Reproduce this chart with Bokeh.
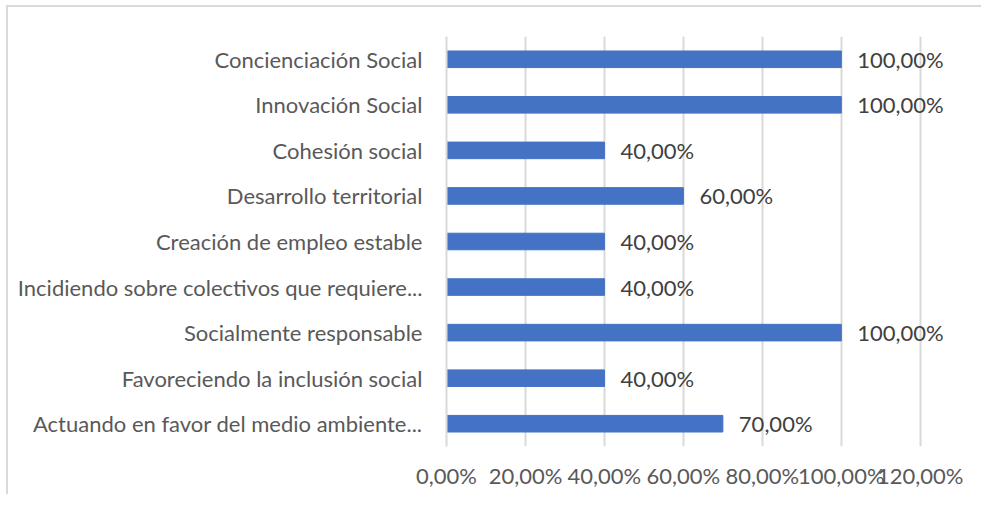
from bokeh.plotting import figure
from bokeh.models import FactorRange, Range1d, FixedTicker, ColumnDataSource, LabelSet
from bokeh.core.properties import value
from bokeh.embed import file_html
from bokeh.resources import INLINE

categories = [
    "Concienciación Social",
    "Innovación Social",
    "Cohesión social",
    "Desarrollo territorial",
    "Creación de empleo estable",
    "Incidiendo sobre colectivos que requiere...",
    "Socialmente responsable",
    "Favoreciendo la inclusión social",
    "Actuando en favor del medio ambiente...",
]
values = [1.00, 1.00, 0.40, 0.60, 0.40, 0.40, 1.00, 0.40, 0.70]
value_labels = ["100,00%", "100,00%", "40,00%", "60,00%", "40,00%", "40,00%", "100,00%", "40,00%", "70,00%"]
tick_values = [0.0, 0.2, 0.4, 0.6, 0.8, 1.0, 1.2]
tick_labels = ["0,00%", "20,00%", "40,00%", "60,00%", "80,00%", "100,00%", "120,00%"]

FONT = "Lato"
BAR = "#4472C4"
GRID = "#d9d9d9"
TXT = "#595959"

src = ColumnDataSource(dict(cat=categories, val=values, lab=value_labels))

# frame extends past the last gridline (1.2) so value labels are not clipped
p = figure(
    y_range=FactorRange(factors=list(reversed(categories))),
    x_range=Range1d(0, 1.35),
    width=973, height=487,
    output_backend="svg", toolbar_location=None,
    min_border_left=438, min_border_right=2, min_border_top=29, min_border_bottom=48,
)
p.frame_width = 533
p.frame_height = 410
p.hbar(y="cat", right="val", left=0, height=0.364, source=src, color=BAR)
p.add_layout(LabelSet(x="val", y="cat", text="lab", source=src, x_offset=16,
                      text_baseline="middle", text_align="left",
                      text_font=value(FONT), text_font_size=value("22px"), text_color="#404040"))

p.xaxis.ticker = FixedTicker(ticks=tick_values)
p.xaxis.major_label_overrides = {t: l for t, l in zip(tick_values, tick_labels)}
p.xaxis.axis_line_color = None
p.xaxis.major_tick_line_color = None
p.xaxis.minor_tick_line_color = None
p.xaxis.major_label_standoff = 9
p.xaxis.major_label_text_font = FONT
p.xaxis.major_label_text_font_size = "22px"
p.xaxis.major_label_text_color = TXT

p.yaxis.axis_line_color = GRID
p.yaxis.axis_line_width = 2
p.yaxis.major_tick_line_color = None
p.yaxis.minor_tick_line_color = None
p.yaxis.major_label_standoff = 18
p.yaxis.major_label_text_font = FONT
p.yaxis.major_label_text_font_size = "22px"
p.yaxis.major_label_text_color = TXT

p.xgrid.grid_line_color = GRID
p.xgrid.grid_line_width = 2
p.ygrid.grid_line_color = None
p.outline_line_color = None
p.styles = {"border-left": "2px solid #d9d9d9", "border-top": "2px solid #d9d9d9",
            "margin": "5px 0px 0px 6px"}

open("out.html", "w").write(file_html(p, INLINE))
